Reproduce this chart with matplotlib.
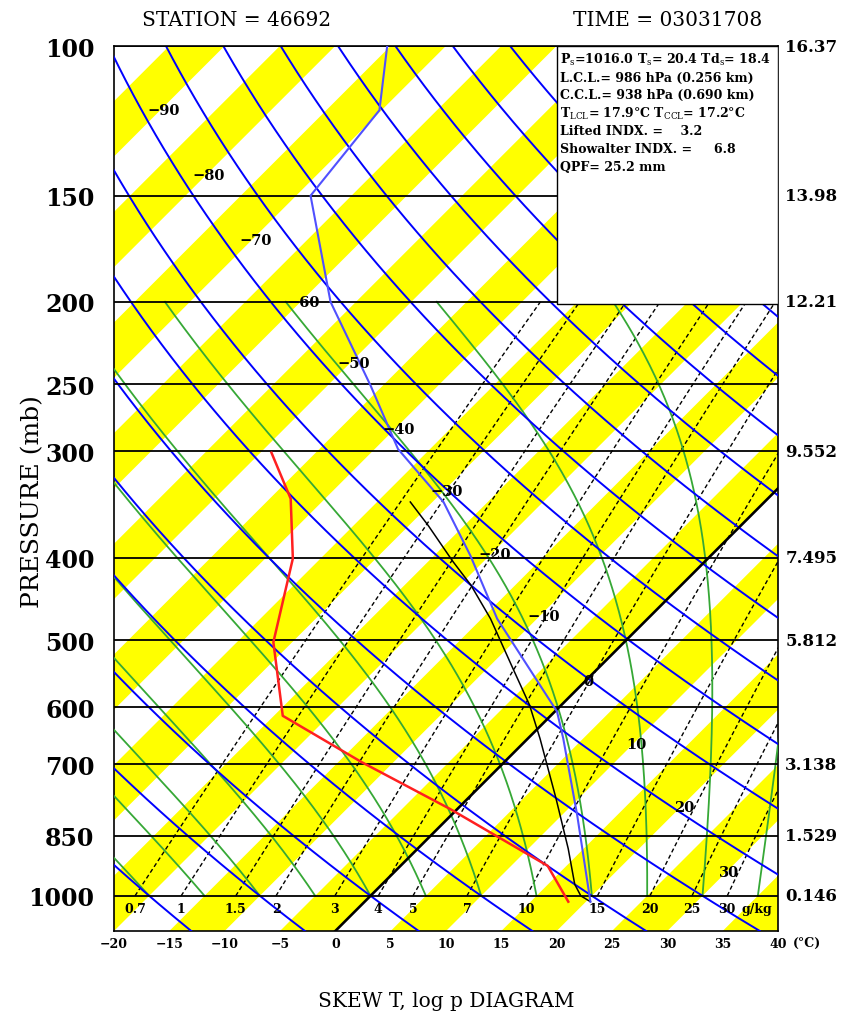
import numpy as np
import matplotlib.pyplot as plt
from matplotlib.patches import Rectangle
from matplotlib.transforms import blended_transform_factory

plt.rcParams['font.family'] = ['DejaVu Serif']
plt.rcParams['mathtext.fontset'] = 'dejavuserif'

# sounding (p in mb, T in degC)
temp_p = [100, 119, 150, 200, 251, 298, 344, 398, 472, 607, 653, 804, 1016]
temp_t = [-75.3, -70.2, -68.7, -57.3, -46.1, -37.9, -29.0, -21.7, -13.6, 0.2, 3.2, 11.4, 20.4]

dew_p = [301, 341, 401, 503, 614, 696, 790, 922, 1016]
dew_t = [-49.0, -43.1, -37.5, -31.7, -24.2, -12.9, -0.7, 13.3, 18.4]

parcel_p = [344, 367, 404, 431, 472, 541, 596, 653, 767, 880, 969, 1000, 1016]
parcel_t = [-32.0, -28.2, -22.8, -19.0, -14.2, -7.6, -2.9, 1.1, 7.9, 13.6, 17.4, 19.0, 20.4]

# diagram background
plevels = [100, 150, 200, 250, 300, 400, 500, 600, 700, 850, 1000]
heights = ['16.37', '13.98', '12.21', '', '9.552', '7.495', '5.812', '', '3.138', '1.529', '0.146']
xticks = list(range(-20, 45, 5))
theta_c = list(range(-30, 190, 10))          # dry adiabats
theta_w = list(range(-20, 40, 5))            # moist adiabats
mix_w = [0.7, 1, 1.5, 2, 3, 4, 5, 7, 10, 15, 20, 25, 30]
mix_lab = ['0.7', '1', '1.5', '2', '3', '4', '5', '7', '10', '15', '20', '25', '30']
iso_lab_t = [-90, -80, -70, -60, -50, -40, -30, -20, -10, 0, 10, 20, 30]
iso_lab_p = [119, 142, 169, 200, 236, 282, 334, 396, 468, 559, 663, 786, 938]
band_lo = list(range(-105, 45, 10))          # yellow 5-degree isotherm bands

info = [r'P$_\mathrm{s}$=1016.0 T$_\mathrm{s}$= 20.4 Td$_\mathrm{s}$= 18.4',
        'L.C.L.= 986 hPa (0.256 km)',
        'C.C.L.= 938 hPa (0.690 km)',
        r'T$_\mathrm{LCL}$= 17.9°C T$_\mathrm{CCL}$= 17.2°C',
        'Lifted INDX. =    3.2',
        'Showalter INDX. =     6.8',
        'QPF= 25.2 mm']

P_BOT, P_TOP = 1100.0, 100.0
SKEW = (850 / np.log(10)) / (664 / 60)   # isotherms at 45 degrees
KAPPA = 287.04 / 1005.7


def skx(t, p):
    return np.asarray(t) + SKEW * np.log(P_BOT / np.asarray(p))


def sat_mix_temp(w, p):
    # temperature (degC) where saturation mixing ratio w (g/kg) is reached at p
    a = np.log(w * p / 622.0 / 6.112)
    return 243.5 * a / (17.67 - a)


def moist_rate(t, p):
    es = 6.112 * np.exp(17.67 * (t - 273.15) / (t - 29.65))
    rs = 0.622 * es / (p - es)
    num = 287.04 * t + 2.501e6 * rs
    den = 1005.7 + 2.501e6 ** 2 * rs * 0.622 / (287.04 * t ** 2)
    return num / (p * den)


fig = plt.figure(figsize=(8.44, 10.12), dpi=100)
ax = fig.add_axes([114 / 844, 1 - 932 / 1012, 664 / 844, 885 / 1012])
ax.set_yscale('log')
ax.set_ylim(P_BOT, P_TOP)
ax.set_xlim(-20, 40)

pp = np.geomspace(P_BOT, P_TOP, 60)
for lo in band_lo:
    ax.fill_betweenx(pp, skx(lo, pp), skx(lo + 5, pp), color='#ffff00', lw=0, zorder=1)

# mixing ratio lines
pw = np.geomspace(1000, 200, 60)
for w in mix_w:
    ax.plot(skx(sat_mix_temp(w, pw), pw), pw, color='k', lw=1.0, ls=(0, (3, 2)), zorder=2)

# moist adiabats
pm = np.linspace(1000, 200, 321)
T = np.array(theta_w, float) + 273.15
tm = [T]
for i in range(len(pm) - 1):
    p0, dp = pm[i], pm[i + 1] - pm[i]
    k1 = moist_rate(T, p0)
    k2 = moist_rate(T + 0.5 * dp * k1, p0 + 0.5 * dp)
    k3 = moist_rate(T + 0.5 * dp * k2, p0 + 0.5 * dp)
    k4 = moist_rate(T + dp * k3, p0 + dp)
    T = T + dp * (k1 + 2 * k2 + 2 * k3 + k4) / 6
    tm.append(T)
tm = np.array(tm) - 273.15
for j in range(len(theta_w)):
    ax.plot(skx(tm[:, j], pm), pm, color='#36a836', lw=1.3, zorder=3)

# dry adiabats
pd_ = np.geomspace(P_BOT, P_TOP, 200)
for th in theta_c:
    t = (th + 273.15) * (pd_ / 1000.0) ** KAPPA - 273.15
    ax.plot(skx(t, pd_), pd_, color='#0000ff', lw=1.4, zorder=4)

# 0 degC isotherm
ax.plot(skx([0, 0], [P_BOT, P_TOP]), [P_BOT, P_TOP], color='k', lw=1.9, zorder=5)

for p in plevels:
    ax.axhline(p, color='k', lw=1.3, zorder=5)

# sounding curves
ax.plot(skx(parcel_t, parcel_p), parcel_p, color='k', lw=1.1, zorder=6)
ax.plot(skx(temp_t, temp_p), temp_p, color='#5050ff', lw=1.5, zorder=7)
ax.plot(skx(dew_t, dew_p), dew_p, color='#ff2020', lw=1.8, zorder=7)

for t, p in zip(iso_lab_t, iso_lab_p):
    ax.text(skx(t, p) + 0.3, p, f'{t}'.replace('-', '\u2212'), ha='center', va='center',
            fontsize=10.5, fontweight='bold', zorder=8)

for w, lab in zip(mix_w, mix_lab):
    ax.text(skx(sat_mix_temp(w, 1000), 1000), 1034, lab, ha='center', va='center',
            fontsize=9, fontweight='bold', zorder=8)
ax.text(38.1, 1034, 'g/kg', ha='center', va='center', fontsize=9,
        fontweight='bold', zorder=8)

# information box
ax.add_patch(Rectangle((0.667, 0.7085), 0.333, 0.2915, transform=ax.transAxes,
                       fc='white', ec='k', lw=1.0, zorder=10))
for i, s in enumerate(info):
    ax.text(0.671, 0.9853 - i * 0.0203, s, transform=ax.transAxes, fontsize=9.0,
            fontweight='bold', va='center', ha='left', zorder=11)

ax.set_yticks(plevels)
ax.set_yticklabels([str(p) for p in plevels], fontsize=17, fontweight='bold')
ax.minorticks_off()
ax.set_xticks(xticks)
ax.set_xticklabels([str(x).replace('-', '\u2212') for x in xticks], fontsize=9, fontweight='bold')
ax.tick_params(axis='both', length=0)
ax.tick_params(axis='y', pad=14)
ax.tick_params(axis='x', pad=4)

trans = blended_transform_factory(ax.transAxes, ax.transData)
for p, h in zip(plevels, heights):
    ax.text(1.011, p, h, transform=trans, ha='left', va='center', fontsize=12,
            fontweight='bold')
ax.text(1.022, -0.0125, '(°C)', transform=ax.transAxes, ha='left', va='center', fontsize=9,
        fontweight='bold')

for s in ax.spines.values():
    s.set_linewidth(1.2)

ax.set_xlabel('SKEW T, log p DIAGRAM', fontsize=14.5, labelpad=30)
fig.text(33 / 844, 1 - 502 / 1012, 'PRESSURE (mb)', rotation=90, ha='center', va='center',
         fontsize=18)
fig.text(237 / 844, 1 - 20 / 1012, 'STATION = 46692', ha='center', va='center', fontsize=14.5)
fig.text(668 / 844, 1 - 20 / 1012, 'TIME = 03031708', ha='center', va='center', fontsize=14.5)

fig.savefig('out.png', dpi=100)
